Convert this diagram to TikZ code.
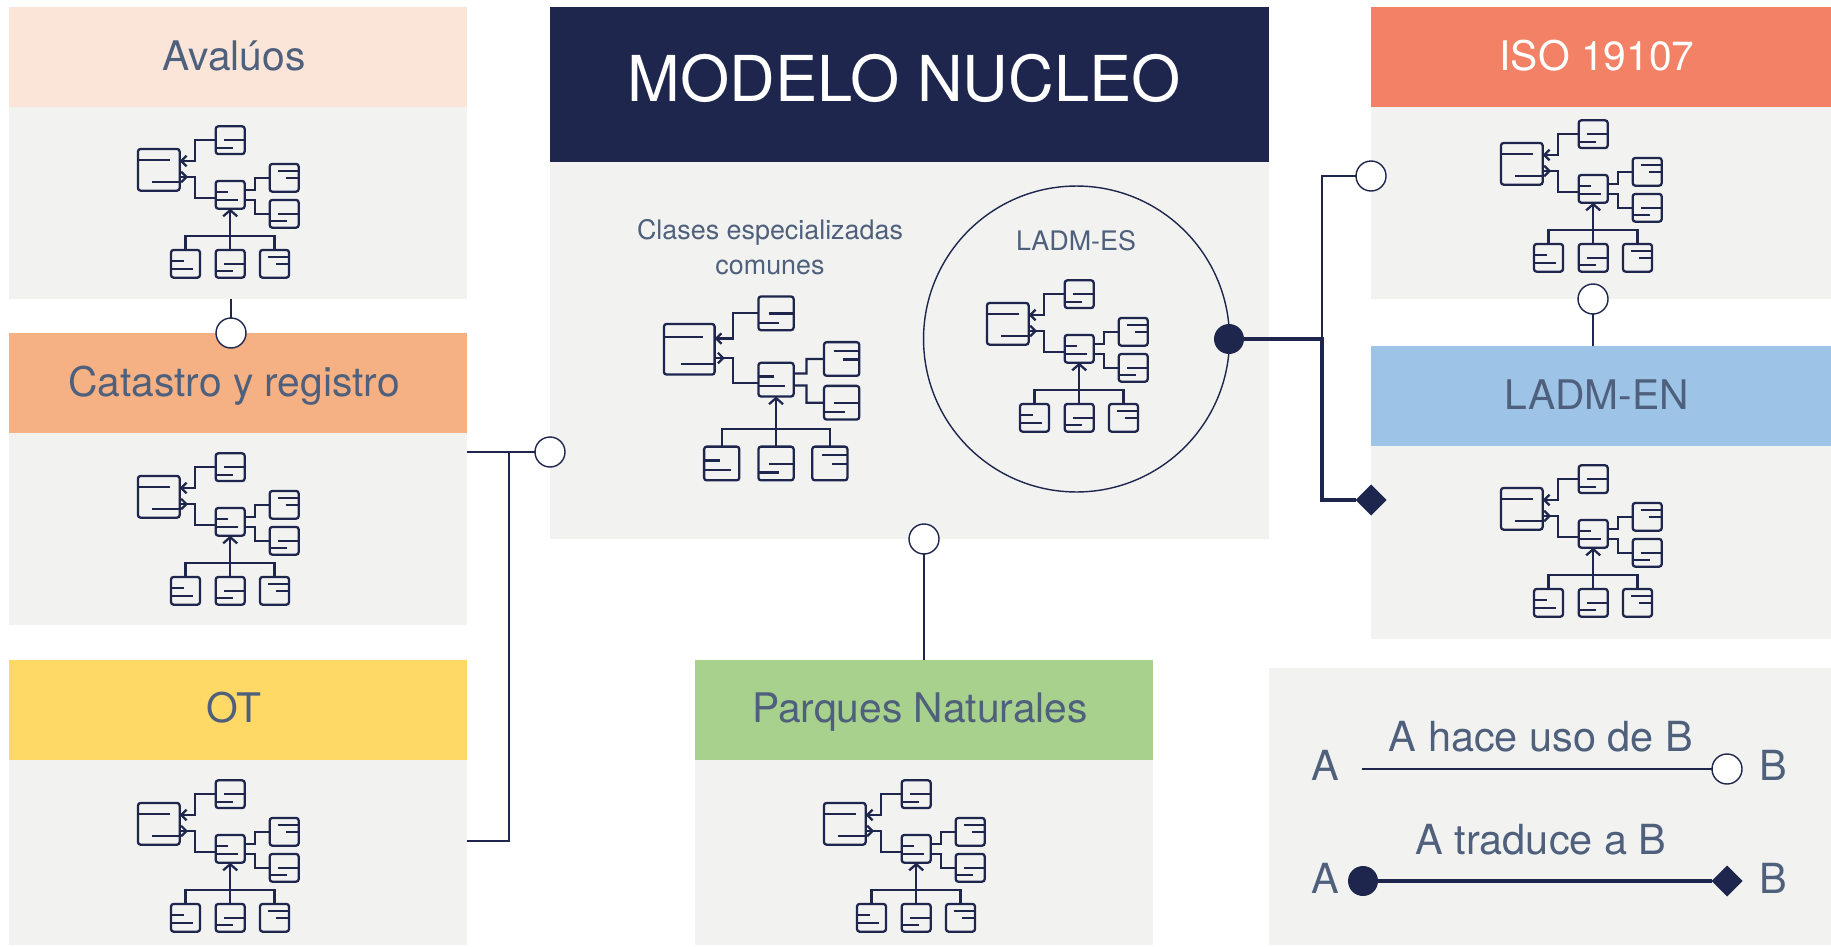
\documentclass[tikz,border=0pt]{standalone}
\usepackage{fontspec}
\setmainfont{TeX Gyre Heros}
\usetikzlibrary{shapes.geometric, positioning, arrows.meta}
\definecolor{NucleoNavy}{HTML}{1E264E}
\definecolor{NucleoText}{HTML}{4F607D}
\definecolor{PanelGray}{HTML}{F2F2F0}
\definecolor{AvaluosPeach}{HTML}{FBE5D8}
\definecolor{CatastroOrange}{HTML}{F5B183}
\definecolor{OtYellow}{HTML}{FFD966}
\definecolor{IsoCoral}{HTML}{F38166}
\definecolor{LadmBlue}{HTML}{9DC3E6}
\definecolor{ParquesGreen}{HTML}{A9D18E}
\tikzset{
    headbox/.style={minimum width=9.16cm, minimum height=2cm, inner sep=0pt, outer sep=0pt, text=NucleoText, text height=15.3pt, text depth=0pt, execute at end node={\hspace*{4.6pt}}, font=\fontsize{23.2}{28}\selectfont},
    bodybox/.style={fill=PanelGray, minimum width=9.16cm, minimum height=3.84cm, inner sep=0pt, outer sep=0pt},
    classbox/.style={draw=NucleoNavy, line width=1.3pt, rounded corners=1.5pt, minimum width=.58cm, minimum height=.555cm, inner sep=0pt, outer sep=0pt, transform shape},
    iconline/.style={draw=NucleoNavy, line width=1.3pt},
    usecircle/.style={circle, draw=NucleoNavy, fill=white, line width=.8pt, minimum size=.6cm, inner sep=0pt, outer sep=0pt},
    dotcircle/.style={circle, fill=NucleoNavy, minimum size=.6cm, inner sep=0pt, outer sep=0pt},
    enddiamond/.style={diamond, fill=NucleoNavy, minimum size=.62cm, inner sep=0pt, outer sep=0pt},
    useline/.style={draw=NucleoNavy, line width=.8pt},
    traduceline/.style={draw=NucleoNavy, line width=1.8pt},
    legendtext/.style={text=NucleoText, inner sep=0pt, font=\fontsize{23.6}{28}\selectfont},
    classicon/.pic={
        % Boxes
        \node[classbox, minimum width=.834cm, minimum height=.834cm] (-big) at (20.8,20.8) {};
        \node[classbox] (-top) at (92.2,-8.8) {};
        \node[classbox] (-mid) at (92.2,45.8) {};
        \node[classbox] (-ra) at (146.2,28.8) {};
        \node[classbox] (-rb) at (146.2,64.8) {};
        \node[classbox] (-ba) at (47.5,114.8) {};
        \node[classbox] (-bb) at (92.2,114.8) {};
        \node[classbox] (-bc) at (136.5,114.8) {};
        % Inner bars
        \draw[iconline] (0,10.7) -- (31.7,10.7) (14.3,32.7) -- (41.7,32.7);
        \draw[iconline] (86.3,-8.7) -- (106.7,-8.7) (77.7,-1) -- (95,-1);
        \draw[iconline] (77.7,43.3) -- (90.3,43.3) (77.7,51.3) -- (99.7,51.3);
        \draw[iconline] (140.3,22.3) -- (160.7,22.3) (147.7,29.3) -- (160.7,29.3);
        \draw[iconline] (140.3,65) -- (160.7,65) (131.7,72.3) -- (149,72.3);
        \draw[iconline] (33,112.3) -- (45.7,112.3) (33,120.3) -- (55,120.3);
        \draw[iconline] (86.3,115) -- (106.7,115) (77.7,122.3) -- (95,122.3);
        \draw[iconline] (130.3,108) -- (151,108) (138.3,115) -- (151,115);
        % Links
        \draw[iconline, -{Straight Barb[length=3pt, width=6pt]}] (-top.west) -| (56.7,12) -- (-big.east |- 0,12);
        \draw[iconline] (-mid.west |- 0,48.7) -| (56.7,28) -- (-big.east |- 0,28);
        \draw[iconline, -{Straight Barb[length=3pt, width=6pt]}] (-big.east |- 0,28) -- (50,28);
        \draw[iconline] (-mid.east |- 0,40.7) -| (117.3,28.8) -- (-ra.west);
        \draw[iconline] (-mid.east |- 0,50.7) -| (117.3,64.8) -- (-rb.west);
        \draw[iconline, -{Straight Barb[length=3.5pt, width=8pt]}] (-bb.north) -- (-mid.south);
        \draw[iconline] (-ba.north) |- (92.2,86.7) -| (-bc.north);
    }
}
\begin{document}
\begin{tikzpicture}[x=.02cm, y=-.02cm]
    \useasboundingbox (0,0) rectangle (1831,946);
    % Left column
    \node[headbox, fill=AvaluosPeach] (avaluosHead) at (238,57) {Avalúos};
    \node[bodybox, below=0pt of avaluosHead] (avaluosBody) {};
    \node[headbox, fill=CatastroOrange] (catastroHead) at (238,383) {Catastro y registro};
    \node[bodybox, below=0pt of catastroHead] (catastroBody) {};
    \node[headbox, fill=OtYellow] (otHead) at (238,709.5) {OT};
    \node[bodybox, minimum height=3.72cm, below=0pt of otHead] (otBody) {};
    % Core model
    \node[headbox, fill=NucleoNavy, text=white, minimum width=14.38cm, minimum height=3.1cm, text height=19.4pt, execute at end node={\hspace*{1.3pt}}, font=\fontsize{36}{42}\selectfont] (nucleoHead) at (909.5,84.5) {MODELO NUCLEO};
    \node[bodybox, minimum width=14.38cm, minimum height=7.54cm, below=0pt of nucleoHead] (nucleoBody) {};
    \node[text=NucleoText, align=center, inner sep=0pt, font=\fontsize{15.3}{20}\selectfont] (clasesLabel) at (770,247) {Clases especializadas\\comunes};
    \node[circle, draw=NucleoNavy, line width=.8pt, minimum size=6.12cm, inner sep=0pt, outer sep=0pt] (ladmesRing) at (1076.5,339) {};
    \node[text=NucleoText, inner sep=0pt, font=\fontsize{15.3}{18}\selectfont] (ladmesLabel) at (1076,241) {LADM-ES};
    % Right column
    \node[headbox, fill=IsoCoral, text=white, minimum width=9.2cm] (isoHead) at (1601,57) {ISO 19107};
    \node[bodybox, minimum width=9.2cm, below=0pt of isoHead] (isoBody) {};
    \node[headbox, fill=LadmBlue, minimum width=9.2cm] (ladmenHead) at (1601,396) {LADM-EN};
    \node[bodybox, minimum width=9.2cm, minimum height=3.86cm, below=0pt of ladmenHead] (ladmenBody) {};
    % Parks
    \node[headbox, fill=ParquesGreen] (parquesHead) at (924,709.5) {Parques Naturales};
    \node[bodybox, minimum height=3.72cm, below=0pt of parquesHead] (parquesBody) {};
    % Icons
    \pic (iconAvaluos) at (138,149) {classicon};
    \pic (iconCatastro) at (138,476) {classicon};
    \pic (iconOt) at (138,803) {classicon};
    \pic (iconIso) at (1501,143) {classicon};
    \pic (iconLadmen) at (1501,488) {classicon};
    \pic (iconParques) at (824,803) {classicon};
    \pic (iconLadmes) at (987,303) {classicon};
    \pic[scale=1.215] (iconNucleo) at (664,324) {classicon};
    % Hubs
    \node[usecircle] (useCatastro) at (231,333) {};
    \node[usecircle] (useNucleo) at (550,452) {};
    \node[usecircle] (useParques) at (924,539) {};
    \node[usecircle] (useIso) at (1371,176) {};
    \node[usecircle] (useLadmen) at (1593,299) {};
    \node[dotcircle] (traduceDot) at (1229,339) {};
    \node[enddiamond] (traduceEnd) at (1371,500) {};
    \coordinate (branchNucleo) at (509,452);
    \coordinate (otOut) at (467,841);
    \coordinate (branchIso) at (1322,339);
    % Flow
    \draw[useline] (avaluosBody.south -| useCatastro) -- (useCatastro);
    \draw[useline] (catastroBody.east |- useNucleo) -- (useNucleo);
    \draw[useline] (otOut) -| (branchNucleo);
    \draw[useline] (parquesHead.north -| useParques) -- (useParques);
    \draw[useline] (branchIso) |- (useIso);
    \draw[useline] (ladmenHead.north -| useLadmen) -- (useLadmen);
    \draw[traduceline] (traduceDot) -- (branchIso) |- (traduceEnd);
    % Legend
    \node[fill=PanelGray, minimum width=11.24cm, minimum height=5.54cm, inner sep=0pt, outer sep=0pt] (legendBox) at (1550,806.5) {};
    \node[legendtext] (legendUse) at (1541,737) {A hace uso de B};
    \node[legendtext] (legendUseA) at (1325,765) {A};
    \node[legendtext] (legendUseB) at (1773,765) {B};
    \coordinate (legendStart) at (1362,769);
    \node[usecircle] (legendCircle) at (1727,769) {};
    \draw[useline] (legendStart) -- (legendCircle);
    \node[legendtext] (legendTrad) at (1541,840) {A traduce a B};
    \node[legendtext] (legendTradA) at (1325,878) {A};
    \node[legendtext] (legendTradB) at (1773,878) {B};
    \node[dotcircle] (legendDot) at (1363,881) {};
    \node[enddiamond] (legendDiamond) at (1727,881) {};
    \draw[traduceline] (legendDot) -- (legendDiamond);
\end{tikzpicture}
\end{document}
